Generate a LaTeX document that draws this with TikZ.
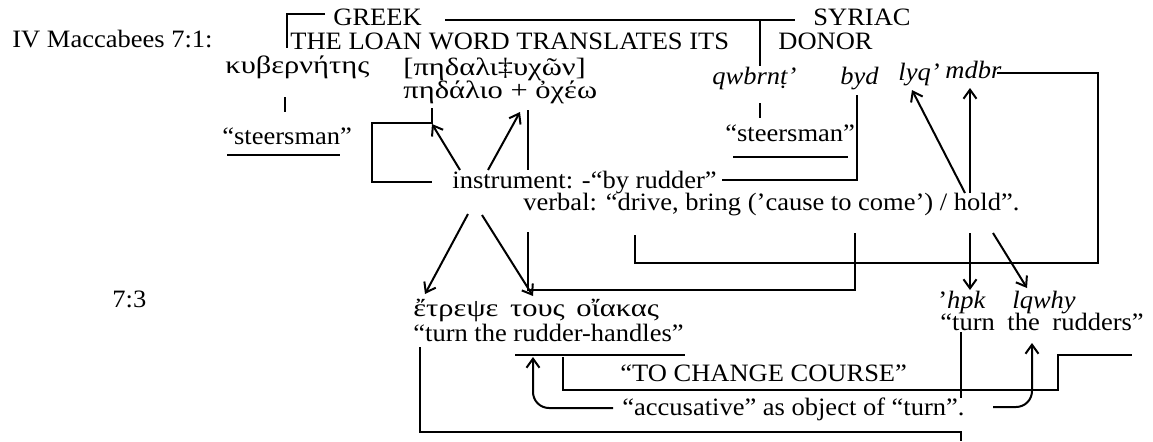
\documentclass[tikz,border=0pt]{standalone}
\usepackage{fontspec}
\setmainfont[FakeStretch=1.06]{Liberation Serif}
\newfontfamily\grk[FakeStretch=1.22]{Liberation Serif}
\usetikzlibrary{arrows.meta}
\begin{document}
\begin{tikzpicture}[x=0.5pt,y=-0.5pt,
  txt/.style={inner sep=0pt,anchor=base west,font=\fontsize{12.5pt}{14pt}\selectfont},
  itx/.style={txt,font=\fontsize{12.5pt}{14pt}\selectfont\itshape},
  gtx/.style={txt,font=\fontsize{12.5pt}{14pt}\selectfont\grk},
  ln/.style={line width=1pt},
  arr/.style={ln,-{Straight Barb[length=4.5pt,width=6.5pt,line width=1pt]}}]
\useasboundingbox (0,0) rectangle (1153,441);
% texts
\node[txt] (title) at (12,47) {IV Maccabees 7:1:};
\node[txt] (greek) at (333,25) {GREEK};
\node[txt] (syriac) at (813,25) {SYRIAC};
\node[txt] (loan) at (290,49) {THE LOAN WORD TRANSLATES ITS};
\node[txt] (donor) at (778,49) {DONOR};
\node[gtx] (kyb) at (225,73) {κυβερνήτης};
\node[gtx] (ped1) at (403,75) {[πηδαλι‡υχῶν]};
\node[gtx] (ped2) at (403,98) {πηδάλιο + ὀχέω};
\node[itx] (qwb) at (712,84) {qwbrnṭ’};
\node[itx] (byd) at (840,84) {byd};
\node[itx] (lyq) at (898,80) {lyq’};
\node[itx] (mdbr) at (945,78) {mdbr};
\node[txt] (stg) at (222,144) {“steersman”};
\node[txt] (sts) at (725,141) {“steersman”};
\node[txt] (instr) at (452,188) {instrument: -“by rudder”};
\node[txt] (verbal) at (523,210) {verbal: “drive, bring (’cause to come’) / hold”.};
\node[txt] (v73) at (112,307) {7:3};
\node[gtx] (etr) at (413,316) {ἔτρεψε\hspace{2pt} τους\hspace{2pt} οἴακας};
\node[txt] (trh) at (413,341) {“turn the rudder-handles”};
\node[txt] (hpk) at (938,308) {’\textit{hpk}};
\node[itx] (lqw) at (1012,308) {lqwhy};
\node[txt] (ttr) at (940,330) {“turn\hspace{3pt} the\hspace{3pt} rudders”};
\node[txt] (tcc) at (620,381) {“TO CHANGE COURSE”};
\node[txt] (acc) at (622,415) {“accusative” as object of “turn”.};
% coordinates
\coordinate (g0) at (325,14); \coordinate (g1) at (287,14); \coordinate (g2) at (287,48);
\coordinate (s0) at (445,20); \coordinate (s1) at (795,20);
\coordinate (d0) at (760,20); \coordinate (d1) at (760,66);
\coordinate (k0) at (285,97); \coordinate (k1) at (285,112);
\coordinate (q0) at (760,103); \coordinate (q1) at (760,118);
\coordinate (u0) at (227,155); \coordinate (u1) at (340,155);
\coordinate (v0) at (733,157); \coordinate (v1) at (848,157);
\coordinate (p0) at (432,108); \coordinate (p1) at (432,123); \coordinate (p2) at (372,123);
\coordinate (p3) at (372,182); \coordinate (p4) at (432,182);
\coordinate (ia) at (460,170); \coordinate (ib) at (488,170);
\coordinate (ic) at (468,214); \coordinate (id) at (482,215);
\coordinate (pa) at (432,124); \coordinate (pb) at (520,112);
\coordinate (ea) at (425,294); \coordinate (eb) at (533,296);
\coordinate (o0) at (528,110); \coordinate (o1) at (528,170);
\coordinate (o2) at (528,232); \coordinate (o3) at (528,290); \coordinate (o4) at (855,290); \coordinate (o5) at (855,233);
\coordinate (b0) at (857,95); \coordinate (b1) at (857,180); \coordinate (b2) at (722,180);
\coordinate (m0) at (635,235); \coordinate (m1) at (635,263); \coordinate (m2) at (1098,263);
\coordinate (m3) at (1098,73); \coordinate (m4) at (997,73);
\coordinate (h0) at (965,193); \coordinate (h1) at (970,193);
\coordinate (la) at (912,90); \coordinate (ma) at (970,88);
\coordinate (h2) at (970,233); \coordinate (h3) at (993,233);
\coordinate (ha) at (970,290); \coordinate (qa) at (1027,288);
\coordinate (r0) at (515,355); \coordinate (r1) at (685,355);
\coordinate (c0) at (563,357); \coordinate (c1) at (563,390); \coordinate (c2) at (1058,390);
\coordinate (c3) at (1058,355); \coordinate (c4) at (1132,355);
\coordinate (x0) at (613,408); \coordinate (xa) at (533,357);
\coordinate (y0) at (993,407); \coordinate (ya) at (1032,343);
\coordinate (t0) at (961,332); \coordinate (t1) at (961,398);
\coordinate (w0) at (420,347); \coordinate (w1) at (420,432); \coordinate (w2) at (961,432); \coordinate (w3) at (961,441);
% lines
\draw[ln] (g0) -- (g1) -- (g2);
\draw[ln] (s0) -- (s1);
\draw[ln] (d0) -- (d1);
\draw[ln] (k0) -- (k1);
\draw[ln] (q0) -- (q1);
\draw[ln] (u0) -- (u1);
\draw[ln] (v0) -- (v1);
\draw[ln] (p0) -- (p1) -- (p2) -- (p3) -- (p4);
\draw[arr] (ia) -- (pa);
\draw[arr] (ib) -- (pb);
\draw[arr] (ic) -- (ea);
\draw[arr] (id) -- (eb);
\draw[ln] (o0) -- (o1);
\draw[ln] (o2) -- (o3) -- (o4) -- (o5);
\draw[ln] (b0) -- (b1) -- (b2);
\draw[ln] (m0) -- (m1) -- (m2) -- (m3) -- (m4);
\draw[arr] (h0) -- (la);
\draw[arr] (h1) -- (ma);
\draw[arr] (h2) -- (ha);
\draw[arr] (h3) -- (qa);
\draw[ln] (r0) -- (r1);
\draw[ln] (c0) -- (c1) -- (c2) -- (c3) -- (c4);
\draw[arr,rounded corners=8pt] (x0) -| (xa);
\draw[arr,rounded corners=8pt] (y0) -| (ya);
\draw[ln] (t0) -- (t1);
\draw[ln] (w0) -- (w1) -- (w2) -- (w3);
\end{tikzpicture}
\end{document}
